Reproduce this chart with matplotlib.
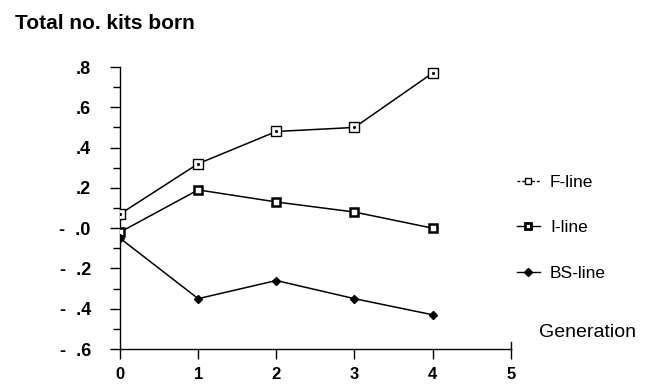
import numpy as np
import matplotlib.pyplot as plt
from matplotlib.lines import Line2D

plt.rcParams['font.family'] = ['Liberation Sans', 'DejaVu Sans']

generation = [0, 1, 2, 3, 4]
f_line = [0.07, 0.32, 0.48, 0.50, 0.77]
i_line = [-0.02, 0.19, 0.13, 0.08, 0.0]
bs_line = [-0.05, -0.35, -0.26, -0.35, -0.43]

y_ticks = [0.8, 0.6, 0.4, 0.2, 0.0, -0.2, -0.4, -0.6]
y_labels = ['.8', '.6', '.4', '.2', '-  .0', '-  .2', '-  .4', '-  .6']
x_ticks = [0, 1, 2, 3, 4, 5]

fig = plt.figure(figsize=(6.65, 3.84), dpi=100)
ax = fig.add_axes([0.1805, 0.0911, 0.5875, 0.7344])

lw = 1.1
# F-line: open square with a dot inside
ax.plot(generation, f_line, color='black', lw=lw, marker='s', ms=6.5,
        mfc='white', mec='black', mew=1.0, zorder=3)
ax.plot(generation, f_line, ls='none', marker='.', ms=2.5, color='black', zorder=4)
# I-line: heavy square
ax.plot(generation, i_line, color='black', lw=lw, marker='s', ms=6,
        mfc='white', mec='black', mew=1.8, zorder=3)
# BS-line: filled diamond
ax.plot(generation, bs_line, color='black', lw=lw, marker='D', ms=4.5,
        mfc='black', mec='black', zorder=3)

ax.set_xlim(0, 5)
ax.set_ylim(-0.6, 0.8)
for s in ['top', 'right']:
    ax.spines[s].set_visible(False)
for s in ['left', 'bottom']:
    ax.spines[s].set_linewidth(1.0)

ax.set_yticks(y_ticks)
ax.set_yticklabels(y_labels, fontsize=13, fontweight='bold')
ax.set_yticks(np.arange(-0.5, 0.8, 0.2), minor=True)
ax.set_xticks(x_ticks)
ax.set_xticklabels([str(x) for x in x_ticks], fontsize=12, fontweight='bold')
ax.tick_params(axis='y', which='major', length=7, width=1.0, pad=14)
ax.tick_params(axis='y', which='minor', length=5, width=1.0)
ax.tick_params(axis='x', which='major', length=7, width=1.0, pad=6)

# small end tick at the right of the x-axis
ax.plot([5, 5], [-0.6, -0.565], color='black', lw=1.0, clip_on=False)

fig.text(0.022, 0.94, 'Total no. kits born', fontsize=15, fontweight='bold',
         ha='left', va='center')
fig.text(0.81, 0.135, 'Generation', fontsize=14, ha='left', va='center')

handles = [
    Line2D([], [], color='black', lw=1.0, ls=(0, (2, 1.5)), marker='s', ms=5,
           mfc='white', mec='black', mew=1.0),
    Line2D([], [], color='black', lw=1.0, marker='s', ms=5,
           mfc='white', mec='black', mew=2.0),
    Line2D([], [], color='black', lw=1.0, marker='D', ms=4,
           mfc='black', mec='black'),
]
ax.legend(handles, ['F-line', 'I-line', 'BS-line'], frameon=False,
          loc='center left', bbox_to_anchor=(0.985, 0.43), fontsize=12.5,
          handlelength=1.3, handletextpad=0.6, labelspacing=1.75,
          borderaxespad=0.3)

fig.savefig('out.png', dpi=100)
